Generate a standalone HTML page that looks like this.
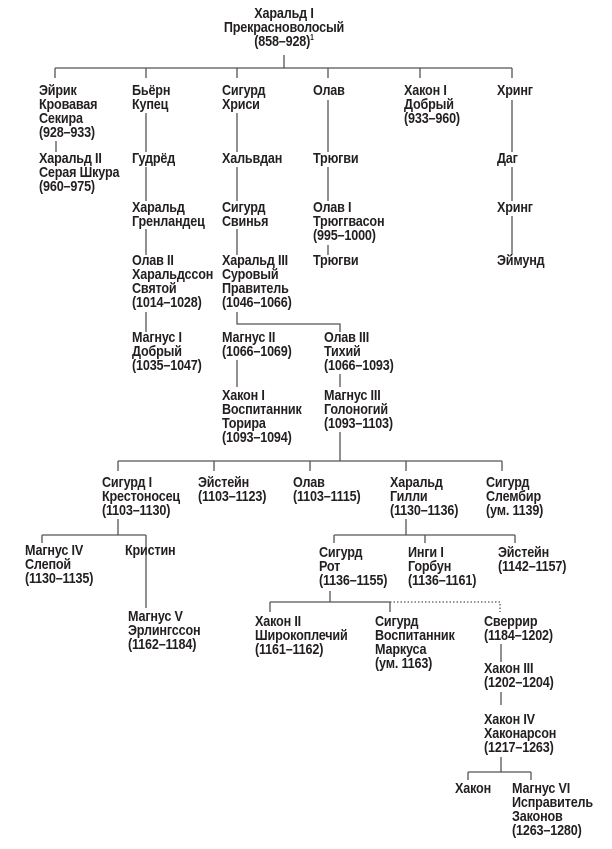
<!DOCTYPE html>
<html><head><meta charset="utf-8"><style>
body{margin:0;width:612px;height:849px;background:#fff;position:relative;overflow:hidden}
.t{position:absolute;font-family:"Liberation Sans",sans-serif;font-weight:bold;font-size:15px;line-height:14px;color:#231f20;white-space:nowrap;transform:scaleX(0.84);transform-origin:0 0;letter-spacing:-0.2px}
svg{position:absolute;left:0;top:0}
</style></head><body>
<svg width="612" height="849" stroke="#555" stroke-width="1.3" fill="none">
<path d="M284 55V68M55 68H512M55 68V78M146 68V78M237 68V78M328 68V78M420 68V78M512 68V78"/>
<path d="M56 141V152M146 113V152M146 167V201M146 229V255M146 312V332"/>
<path d="M237 113V152M237 167V201M237 229V255M237 312V324H340V332M237 360V387M340 374V387M340 432V461"/>
<path d="M328 100V152M328 167V201M328 245V255M512 100V152M512 167V201M512 216V255"/>
<path d="M118 461H502M118 461V471M214 461V471M310 461V471M406 461V471M502 461V471"/>
<path d="M118 519V535M42 535H146M42 535V543M146 535V608"/>
<path d="M406 519V535M334 535H515M334 535V543M425 535V543M515 535V543"/>
<path d="M330 591V602M270 602H390M270 602V612M390 602V612"/>
<path d="M390 602H500V612" stroke-dasharray="1.5 2"/>
<path d="M501 644V662M501 692V705M501 757V772M468 772H531M468 772V780M531 772V780"/>
</svg>
<div class="t" style="left:199px;top:7px;text-align:center;width:170px;transform-origin:50% 0">Харальд I<br>Прекрасноволосый<br>(858–928)<sup style="font-size:8px;line-height:0">1</sup></div>
<div class="t" style="left:39px;top:84px">Эйрик<br>Кровавая<br>Секира<br>(928–933)</div>
<div class="t" style="left:39px;top:152px">Харальд II<br>Серая Шкура<br>(960–975)</div>
<div class="t" style="left:132px;top:84px">Бьёрн<br>Купец</div>
<div class="t" style="left:132px;top:152px">Гудрёд</div>
<div class="t" style="left:132px;top:201px">Харальд<br>Гренландец</div>
<div class="t" style="left:132px;top:254px">Олав II<br>Харальдссон<br>Святой<br>(1014–1028)</div>
<div class="t" style="left:132px;top:331px">Магнус I<br>Добрый<br>(1035–1047)</div>
<div class="t" style="left:222px;top:84px">Сигурд<br>Хриси</div>
<div class="t" style="left:222px;top:152px">Хальвдан</div>
<div class="t" style="left:222px;top:201px">Сигурд<br>Свинья</div>
<div class="t" style="left:222px;top:254px">Харальд III<br>Суровый<br>Правитель<br>(1046–1066)</div>
<div class="t" style="left:222px;top:331px">Магнус II<br>(1066–1069)</div>
<div class="t" style="left:222px;top:389px">Хакон I<br>Воспитанник<br>Торира<br>(1093–1094)</div>
<div class="t" style="left:324px;top:331px">Олав III<br>Тихий<br>(1066–1093)</div>
<div class="t" style="left:324px;top:389px">Магнус III<br>Голоногий<br>(1093–1103)</div>
<div class="t" style="left:313px;top:84px">Олав</div>
<div class="t" style="left:313px;top:152px">Трюгви</div>
<div class="t" style="left:313px;top:201px">Олав I<br>Трюггвасон<br>(995–1000)</div>
<div class="t" style="left:313px;top:254px">Трюгви</div>
<div class="t" style="left:404px;top:84px">Хакон I<br>Добрый<br>(933–960)</div>
<div class="t" style="left:497px;top:84px">Хринг</div>
<div class="t" style="left:497px;top:152px">Даг</div>
<div class="t" style="left:497px;top:201px">Хринг</div>
<div class="t" style="left:497px;top:254px">Эймунд</div>
<div class="t" style="left:102px;top:476px">Сигурд I<br>Крестоносец<br>(1103–1130)</div>
<div class="t" style="left:198px;top:476px">Эйстейн<br>(1103–1123)</div>
<div class="t" style="left:293px;top:476px">Олав<br>(1103–1115)</div>
<div class="t" style="left:390px;top:476px">Харальд<br>Гилли<br>(1130–1136)</div>
<div class="t" style="left:486px;top:476px">Сигурд<br>Слембир<br>(ум. 1139)</div>
<div class="t" style="left:25px;top:544px">Магнус IV<br>Слепой<br>(1130–1135)</div>
<div class="t" style="left:125px;top:544px">Кристин</div>
<div class="t" style="left:128px;top:610px">Магнус V<br>Эрлингссон<br>(1162–1184)</div>
<div class="t" style="left:319px;top:546px">Сигурд<br>Рот<br>(1136–1155)</div>
<div class="t" style="left:408px;top:546px">Инги I<br>Горбун<br>(1136–1161)</div>
<div class="t" style="left:498px;top:546px">Эйстейн<br>(1142–1157)</div>
<div class="t" style="left:255px;top:615px">Хакон II<br>Широкоплечий<br>(1161–1162)</div>
<div class="t" style="left:375px;top:615px">Сигурд<br>Воспитанник<br>Маркуса<br>(ум. 1163)</div>
<div class="t" style="left:484px;top:615px">Сверрир<br>(1184–1202)</div>
<div class="t" style="left:484px;top:662px">Хакон III<br>(1202–1204)</div>
<div class="t" style="left:484px;top:713px">Хакон IV<br>Хаконарсон<br>(1217–1263)</div>
<div class="t" style="left:455px;top:782px">Хакон</div>
<div class="t" style="left:512px;top:782px">Магнус VI<br>Исправитель<br>Законов<br>(1263–1280)</div>
</body></html>
